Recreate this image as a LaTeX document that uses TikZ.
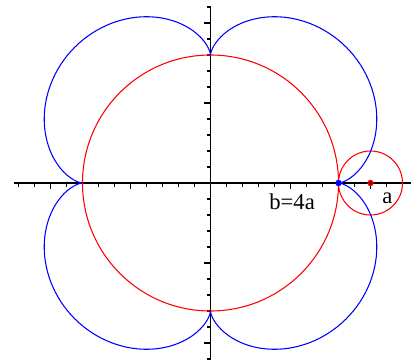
\documentclass[tikz,border=0pt]{standalone}
\usepackage{fontspec}
\setmainfont{Liberation Serif}
\usepackage{tikz}
\tikzset{
  axisline/.style={line width=1.3pt,black},
  tickline/.style={line width=0.9pt,black},
  curveline/.style={line width=0.8pt},
  lbl/.style={inner sep=0.75pt,font=\fontsize{17}{20}\selectfont}
}
\begin{document}
\begin{tikzpicture}[x=12pt,y=12pt]
        \useasboundingbox (-13.156,-11) rectangle (12.531,11.4375);
        %Axes
        \draw[axisline] (-12.25,0) -- (12.53,0);
        \draw[axisline] (0,-11) -- (0,11);
        %Ticks
        \foreach \i in {-12,...,12} \draw[tickline] (\i,0) -- (\i,-0.22);
        \foreach \i in {-10,-5,5,10} \draw[tickline] (\i,0) -- (\i,-0.4);
        \foreach \j in {-11,...,11} \draw[tickline] (0,\j) -- (-0.22,\j);
        \foreach \j in {-10,-5,5,10} \draw[tickline] (0,\j) -- (-0.4,\j);
        %Shape: Circle b
        \draw[curveline,red] (0,0) circle (8);
        %Shape: Circle a
        \draw[curveline,red] (10,0) circle (2);
        %Curve: epicycloid
        \draw[curveline,blue] plot[domain=0:360,samples=361,variable=\t]
            ({10*cos(\t)-2*cos(5*\t)},{10*sin(\t)-2*sin(5*\t)});
        %Shape: Points
        \fill[blue] (8,0) circle (0.2);
        \draw[red,line width=0.9pt,fill=red!50!black] (10,0) circle (0.16);
        % Text Node
        \node[lbl] (lblb) at (5.1,-1.2) {b=4a};
        % Text Node
        \node[lbl] (lbla) at (11.05,-0.95) {a};
\end{tikzpicture}
\end{document}
